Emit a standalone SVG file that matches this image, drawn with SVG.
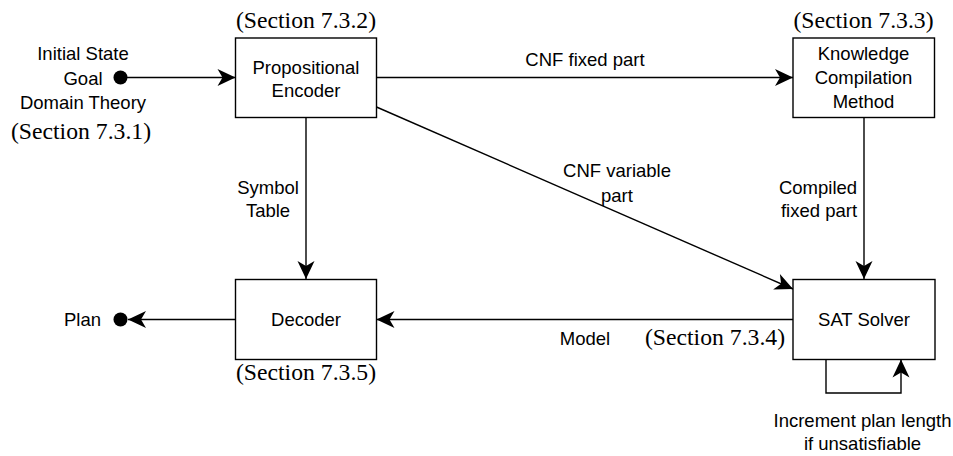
<svg xmlns="http://www.w3.org/2000/svg" width="953" height="456" viewBox="0 0 953 456">
  <style>
    .box { fill: #ffffff; stroke: #000000; stroke-width: 1.4; }
    .edge { fill: none; stroke: #000000; stroke-width: 1.4; }
    .lbl { font-family: "Liberation Sans", Arial, sans-serif; font-size: 18.5px; fill: #000000; text-anchor: middle; }
    .sec { font-family: "Liberation Serif", "Times New Roman", serif; font-size: 23.7px; fill: #000000; text-anchor: middle; }
    .dot { fill: #000000; }
  </style>
  <defs>
    <marker id="arrow" markerUnits="userSpaceOnUse" viewBox="-19 -10 20 20" refX="0" refY="0" markerWidth="20" markerHeight="20" orient="auto">
      <path d="M0,0 L-18,-8.5 L-13,0 L-18,8.5 Z" fill="#000000"/>
    </marker>
  </defs>

  <!-- connectors -->
  <g id="connectors">
    <line class="edge" x1="127" y1="77.5" x2="235.5" y2="77.5" marker-end="url(#arrow)"/>
    <line class="edge" x1="376.5" y1="77.5" x2="793" y2="77.5" marker-end="url(#arrow)"/>
    <line class="edge" x1="376.5" y1="107" x2="793" y2="289" marker-end="url(#arrow)"/>
    <line class="edge" x1="306" y1="117.5" x2="306" y2="279" marker-end="url(#arrow)"/>
    <line class="edge" x1="864" y1="117.5" x2="864" y2="279" marker-end="url(#arrow)"/>
    <line class="edge" x1="793" y1="319.5" x2="376.5" y2="319.5" marker-end="url(#arrow)"/>
    <line class="edge" x1="235.5" y1="319.5" x2="128" y2="319.5" marker-end="url(#arrow)"/>
    <polyline class="edge" points="826,359.5 826,393 901,393 901,359.5" marker-end="url(#arrow)"/>
    <circle class="dot" cx="120.5" cy="77.5" r="7"/>
    <circle class="dot" cx="120.5" cy="319.5" r="7"/>
    <text class="lbl" x="585" y="66">CNF fixed part</text>
    <text class="lbl" x="617" y="176.5">CNF variable</text>
    <text class="lbl" x="617" y="201.5">part</text>
    <text class="lbl" x="268" y="193.5">Symbol</text>
    <text class="lbl" x="268" y="217">Table</text>
    <text class="lbl" x="818" y="193.5">Compiled</text>
    <text class="lbl" x="819" y="217">fixed part</text>
    <text class="lbl" x="585" y="345">Model</text>
    <text class="lbl" x="862.5" y="426.5">Increment plan length</text>
    <text class="lbl" x="862.5" y="450">if unsatisfiable</text>
  </g>

  <!-- input terminal -->
  <g id="input">
    <text class="lbl" x="83" y="60">Initial State</text>
    <text class="lbl" x="83" y="84.5">Goal</text>
    <text class="lbl" x="83" y="109">Domain Theory</text>
    <text class="sec" x="81" y="139">(Section 7.3.1)</text>
  </g>

  <!-- propositional encoder -->
  <g id="encoder">
    <rect class="box" x="235.5" y="38" width="141" height="79.5"/>
    <text class="lbl" x="306" y="73.5">Propositional</text>
    <text class="lbl" x="306" y="97">Encoder</text>
    <text class="sec" x="306" y="28">(Section 7.3.2)</text>
  </g>

  <!-- knowledge compilation -->
  <g id="compiler">
    <rect class="box" x="793" y="38" width="141.5" height="79.5"/>
    <text class="lbl" x="863.5" y="60">Knowledge</text>
    <text class="lbl" x="863.5" y="83.5">Compilation</text>
    <text class="lbl" x="863.5" y="107.5">Method</text>
    <text class="sec" x="863.5" y="28">(Section 7.3.3)</text>
  </g>

  <!-- sat solver -->
  <g id="solver">
    <rect class="box" x="793" y="279.5" width="142" height="80"/>
    <text class="lbl" x="864" y="326">SAT Solver</text>
    <text class="sec" x="715" y="345">(Section 7.3.4)</text>
  </g>

  <!-- decoder -->
  <g id="decoder">
    <rect class="box" x="235.5" y="279.5" width="141" height="80"/>
    <text class="lbl" x="306" y="326">Decoder</text>
    <text class="sec" x="306" y="380">(Section 7.3.5)</text>
  </g>

  <!-- output terminal -->
  <g id="output">
    <text class="lbl" x="82.5" y="326">Plan</text>
  </g>
</svg>
